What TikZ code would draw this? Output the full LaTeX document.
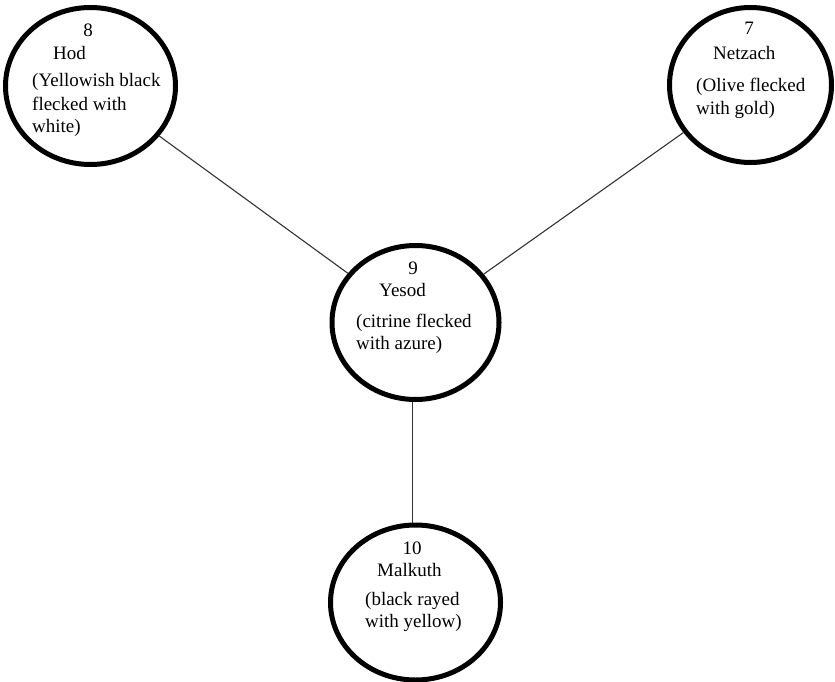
\documentclass[tikz,border=0pt]{standalone}
\usepackage{fontspec}
\setmainfont{Liberation Serif}
\usetikzlibrary{shapes.geometric}
\begin{document}
\begin{tikzpicture}[x=1pt,y=-1pt,
  sephira/.style={draw=black,line width=5pt,ellipse,inner sep=0pt,fill=white},
  lbl/.style={anchor=base west,inner sep=0pt,font=\fontsize{19}{22.5}\selectfont},
  lblc/.style={anchor=base,inner sep=0pt,font=\fontsize{19}{22.5}\selectfont},
  link/.style={draw=black!80,line width=1.1pt}]
\useasboundingbox (0,0) rectangle (835,682);
\node[sephira,minimum width=170pt,minimum height=157pt] (hod) at (90.5,86) {};
\node[sephira,minimum width=162pt,minimum height=155pt] (netzach) at (750.5,85) {};
\node[sephira,minimum width=167pt,minimum height=154pt] (yesod) at (415.5,322.5) {};
\node[sephira,minimum width=170pt,minimum height=155pt] (malkuth) at (415.5,602.5) {};
\draw[link] (hod) -- (yesod);
\draw[link] (netzach) -- (yesod);
\draw[link] ([xshift=-3pt]yesod.south) -- ([xshift=-3pt]malkuth.north);
% Hod
\node[lblc] (h1) at (88,37) {8};
\node[lbl] (h2) at (53,60) {Hod};
\node[lbl] (h3) at (32,87) {(Yellowish black};
\node[lbl] (h4) at (32,111) {flecked with};
\node[lbl] (h5) at (32,133) {white)};
% Netzach
\node[lblc] (n1) at (749,35) {7};
\node[lbl] (n2) at (713,60) {Netzach};
\node[lbl] (n3) at (696,92) {(Olive flecked};
\node[lbl] (n4) at (696,115) {with gold)};
% Yesod
\node[lblc] (y1) at (413,274) {9};
\node[lbl] (y2) at (379,296) {Yesod};
\node[lbl] (y3) at (356,327) {(citrine flecked};
\node[lbl] (y4) at (356,349) {with azure)};
% Malkuth
\node[lblc] (m1) at (412,554) {10};
\node[lbl] (m2) at (377,576) {Malkuth};
\node[lbl] (m3) at (365,605) {(black rayed};
\node[lbl] (m4) at (365,627) {with yellow)};
\end{tikzpicture}
\end{document}
